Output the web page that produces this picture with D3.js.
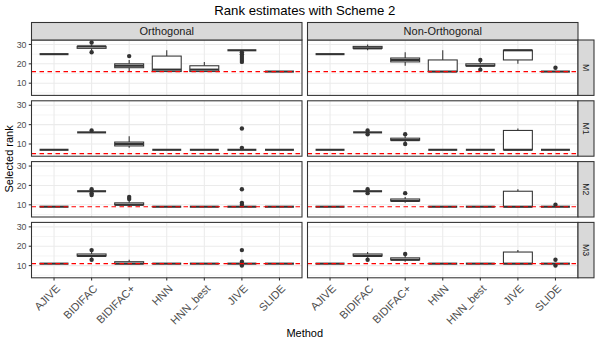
<!DOCTYPE html>
<html>
<head>
<meta charset="utf-8">
<script src="https://cdn.jsdelivr.net/npm/d3@7"></script>
<style>
  body { margin: 0; background: #fff; }
  text { font-family: "Liberation Sans", Arial, sans-serif; }
</style>
</head>
<body>
<div class="canvas"></div>
<script>
const methods = ["AJIVE", "BIDIFAC", "BIDIFAC+", "HNN", "HNN_best", "JIVE", "SLIDE"];
const schemes = ["Orthogonal", "Non-Orthogonal"];
const models = ["M", "M1", "M2", "M3"];
const trueRank = [16, 5, 9, 11];
const yTicks = [10, 20, 30];

// per scheme, per method: [low whisker, q1, median, q3, high whisker]
const statsM = [
  [[25, 25, 25, 25, 25], [27, 28, 29, 29, 30], [16, 18, 19, 20, 22], [16, 16, 17, 24, 27], [16, 16, 17, 19, 21], [27, 27, 27, 27, 27], [16, 16, 16, 16, 16]],
  [[25, 25, 25, 25, 25], [27, 28, 28, 29, 30], [19, 21, 22, 23, 26], [16, 16, 16, 22, 27], [18, 19, 19, 20, 21], [20, 22, 27, 27, 27], [16, 16, 16, 16, 16]]
];
const statsM1 = [
  [[7, 7, 7, 7, 7], [16, 16, 16, 16, 16], [8, 9, 10, 11, 14], [7, 7, 7, 7, 7], [7, 7, 7, 7, 7], [7, 7, 7, 7, 7], [7, 7, 7, 7, 7]],
  [[7, 7, 7, 7, 7], [16, 16, 16, 16, 16], [11, 12, 12, 13, 14], [7, 7, 7, 7, 7], [7, 7, 7, 7, 7], [7, 7, 7, 17, 18], [7, 7, 7, 7, 7]]
];
const statsM2 = [
  [[9, 9, 9, 9, 9], [17, 17, 17, 17, 17], [9, 10, 10, 11, 12], [9, 9, 9, 9, 9], [9, 9, 9, 9, 9], [9, 9, 9, 9, 9], [9, 9, 9, 9, 9]],
  [[9, 9, 9, 9, 9], [17, 17, 17, 17, 17], [11, 12, 12, 13, 14], [9, 9, 9, 9, 9], [9, 9, 9, 9, 9], [9, 9, 9, 17, 18], [9, 9, 9, 9, 9]]
];
const statsM3 = [
  [[11, 11, 11, 11, 11], [14, 15, 15, 16, 17], [11, 11, 11, 12, 13], [11, 11, 11, 11, 11], [11, 11, 11, 11, 11], [11, 11, 11, 11, 11], [11, 11, 11, 11, 11]],
  [[11, 11, 11, 11, 11], [14, 15, 15, 16, 17], [12, 13, 13, 14, 15], [11, 11, 11, 11, 11], [11, 11, 11, 11, 11], [11, 11, 11, 17, 18], [11, 11, 11, 11, 11]]
];

// outliers, same layout
const outM = [
  [[], [26, 31], [24], [], [], [21, 22, 23, 24, 25, 26], []],
  [[], [], [], [], [17, 22], [], [18]]
];
const outM1 = [
  [[], [17], [], [], [], [8, 18], []],
  [[], [15, 17], [10, 15], [], [], [], []]
];
const outM2 = [
  [[], [15, 16, 18], [13, 14], [], [], [10, 11, 18], []],
  [[], [16, 18], [16], [], [], [], [10]]
];
const outM3 = [
  [[], [13, 18], [], [], [], [10, 12, 18], []],
  [[], [13], [16], [], [], [], [10, 13]]
];

const allStats = [statsM, statsM1, statsM2, statsM3];
const allOut = [outM, outM1, outM2, outM3];

const W = 599, H = 345;
const colX = [31.5, 307.5], panelW = 270.5;
const rowTop = 40, panelH = 55.4, gapY = 5.4;
const stripH = 17.5, stripW = 16;
const dark = "#333333", grey30 = "#4D4D4D";

const svg = d3.select(".canvas").append("svg")
  .attr("width", W).attr("height", H);

// one fixed y domain for all panels, expanded 5% like ggplot
const vals = [];
allStats.forEach(m => m.forEach(s => s.forEach(b => vals.push(...b))));
allOut.forEach(m => m.forEach(s => s.forEach(o => vals.push(...o))));
vals.push(...trueRank);
const [vmin, vmax] = d3.extent(vals);
const pad = (vmax - vmin) * 0.05;

models.forEach((model, r) => {
  const y0 = rowTop + r * (panelH + gapY);
  const y = d3.scaleLinear().domain([vmin - pad, vmax + pad]).range([y0 + panelH, y0]);
  const minor = d3.range(yTicks[0] - 5, yTicks[yTicks.length - 1] + 6, 10)
    .filter(v => v > vmin - pad && v < vmax + pad);

  schemes.forEach((scheme, c) => {
    const x = d3.scalePoint().domain(methods).range([colX[c], colX[c] + panelW]).padding(0.6);
    const bw = x.step() * 0.77;
    const g = svg.append("g");

    g.append("rect")
      .attr("x", colX[c]).attr("y", y0).attr("width", panelW).attr("height", panelH)
      .attr("fill", "#fff");

    g.selectAll(".minor").data(minor).join("line")
      .attr("x1", colX[c]).attr("x2", colX[c] + panelW)
      .attr("y1", d => y(d)).attr("y2", d => y(d))
      .attr("stroke", "#EBEBEB").attr("stroke-width", 0.55);
    g.selectAll(".major").data(yTicks).join("line")
      .attr("x1", colX[c]).attr("x2", colX[c] + panelW)
      .attr("y1", d => y(d)).attr("y2", d => y(d))
      .attr("stroke", "#EBEBEB").attr("stroke-width", 1.07);
    g.selectAll(".vgrid").data(methods).join("line")
      .attr("x1", d => x(d)).attr("x2", d => x(d))
      .attr("y1", y0).attr("y2", y0 + panelH)
      .attr("stroke", "#EBEBEB").attr("stroke-width", 1.07);

    const stats = allStats[r][c];
    const outs = allOut[r][c];
    methods.forEach((m, i) => {
      const [lo, q1, med, q3, hi] = stats[i];
      const cx = x(m);
      if (hi > q3) {
        g.append("line").attr("x1", cx).attr("x2", cx).attr("y1", y(q3)).attr("y2", y(hi))
          .attr("stroke", dark).attr("stroke-width", 1.07);
      }
      if (lo < q1) {
        g.append("line").attr("x1", cx).attr("x2", cx).attr("y1", y(q1)).attr("y2", y(lo))
          .attr("stroke", dark).attr("stroke-width", 1.07);
      }
      g.append("rect")
        .attr("x", cx - bw / 2).attr("width", bw)
        .attr("y", y(q3)).attr("height", y(q1) - y(q3))
        .attr("fill", "#fff").attr("stroke", dark).attr("stroke-width", 1.07);
      g.append("line")
        .attr("x1", cx - bw / 2).attr("x2", cx + bw / 2)
        .attr("y1", y(med)).attr("y2", y(med))
        .attr("stroke", dark).attr("stroke-width", 2.13);
      g.selectAll(null).data(outs[i]).join("circle")
        .attr("cx", cx).attr("cy", d => y(d)).attr("r", 2.2)
        .attr("fill", dark);
    });

    g.append("line")
      .attr("x1", colX[c]).attr("x2", colX[c] + panelW)
      .attr("y1", y(trueRank[r])).attr("y2", y(trueRank[r]))
      .attr("stroke", "red").attr("stroke-width", 1.2)
      .attr("stroke-dasharray", "4.5,3.5");

    g.append("rect")
      .attr("x", colX[c]).attr("y", y0).attr("width", panelW).attr("height", panelH)
      .attr("fill", "none").attr("stroke", dark).attr("stroke-width", 1.07);

    // y axis on left column
    if (c === 0) {
      g.selectAll(".yt").data(yTicks).join("line")
        .attr("x1", colX[0] - 2.75).attr("x2", colX[0])
        .attr("y1", d => y(d)).attr("y2", d => y(d))
        .attr("stroke", dark).attr("stroke-width", 1.07);
      g.selectAll(".yl").data(yTicks).join("text")
        .attr("x", colX[0] - 5).attr("y", d => y(d)).attr("dy", "0.35em")
        .attr("text-anchor", "end").attr("font-size", 8.8).attr("fill", grey30)
        .text(d => d);
    }

    // x axis on bottom row
    if (r === models.length - 1) {
      const yb = y0 + panelH;
      g.selectAll(".xt").data(methods).join("line")
        .attr("x1", d => x(d)).attr("x2", d => x(d))
        .attr("y1", yb).attr("y2", yb + 2.75)
        .attr("stroke", dark).attr("stroke-width", 1.07);
      g.selectAll(".xl").data(methods).join("text")
        .attr("transform", d => `translate(${x(d) + 1},${yb + 6}) rotate(-45)`)
        .attr("dy", "0.72em")
        .attr("text-anchor", "end").attr("font-size", 11).attr("fill", grey30)
        .text(d => d);
    }

    // top strips
    if (r === 0) {
      g.append("rect")
        .attr("x", colX[c]).attr("y", rowTop - stripH).attr("width", panelW).attr("height", stripH)
        .attr("fill", "#D9D9D9").attr("stroke", dark).attr("stroke-width", 1.07);
      g.append("text")
        .attr("x", colX[c] + panelW / 2).attr("y", rowTop - stripH / 2).attr("dy", "0.35em")
        .attr("text-anchor", "middle").attr("font-size", 11).attr("fill", "#1A1A1A")
        .text(scheme);
    }
  });

  // right strip
  const sx = colX[1] + panelW;
  svg.append("rect")
    .attr("x", sx).attr("y", y0).attr("width", stripW).attr("height", panelH)
    .attr("fill", "#D9D9D9").attr("stroke", dark).attr("stroke-width", 1.07);
  svg.append("text")
    .attr("transform", `translate(${sx + stripW / 2},${y0 + panelH / 2}) rotate(90)`)
    .attr("dy", "0.35em")
    .attr("text-anchor", "middle").attr("font-size", 8.8).attr("fill", "#1A1A1A")
    .text(model);
});

const midX = (colX[0] + colX[1] + panelW) / 2;
const bottom = rowTop + models.length * panelH + (models.length - 1) * gapY;

svg.append("text")
  .attr("x", midX).attr("y", 15)
  .attr("text-anchor", "middle").attr("font-size", 13.2).attr("fill", "#000")
  .text("Rank estimates with Scheme 2");

svg.append("text")
  .attr("x", midX).attr("y", 337)
  .attr("text-anchor", "middle").attr("font-size", 11).attr("fill", "#000")
  .text("Method");

svg.append("text")
  .attr("transform", `translate(13,${(rowTop + bottom) / 2}) rotate(-90)`)
  .attr("text-anchor", "middle").attr("font-size", 11).attr("fill", "#000")
  .text("Selected rank");
</script>
</body>
</html>
